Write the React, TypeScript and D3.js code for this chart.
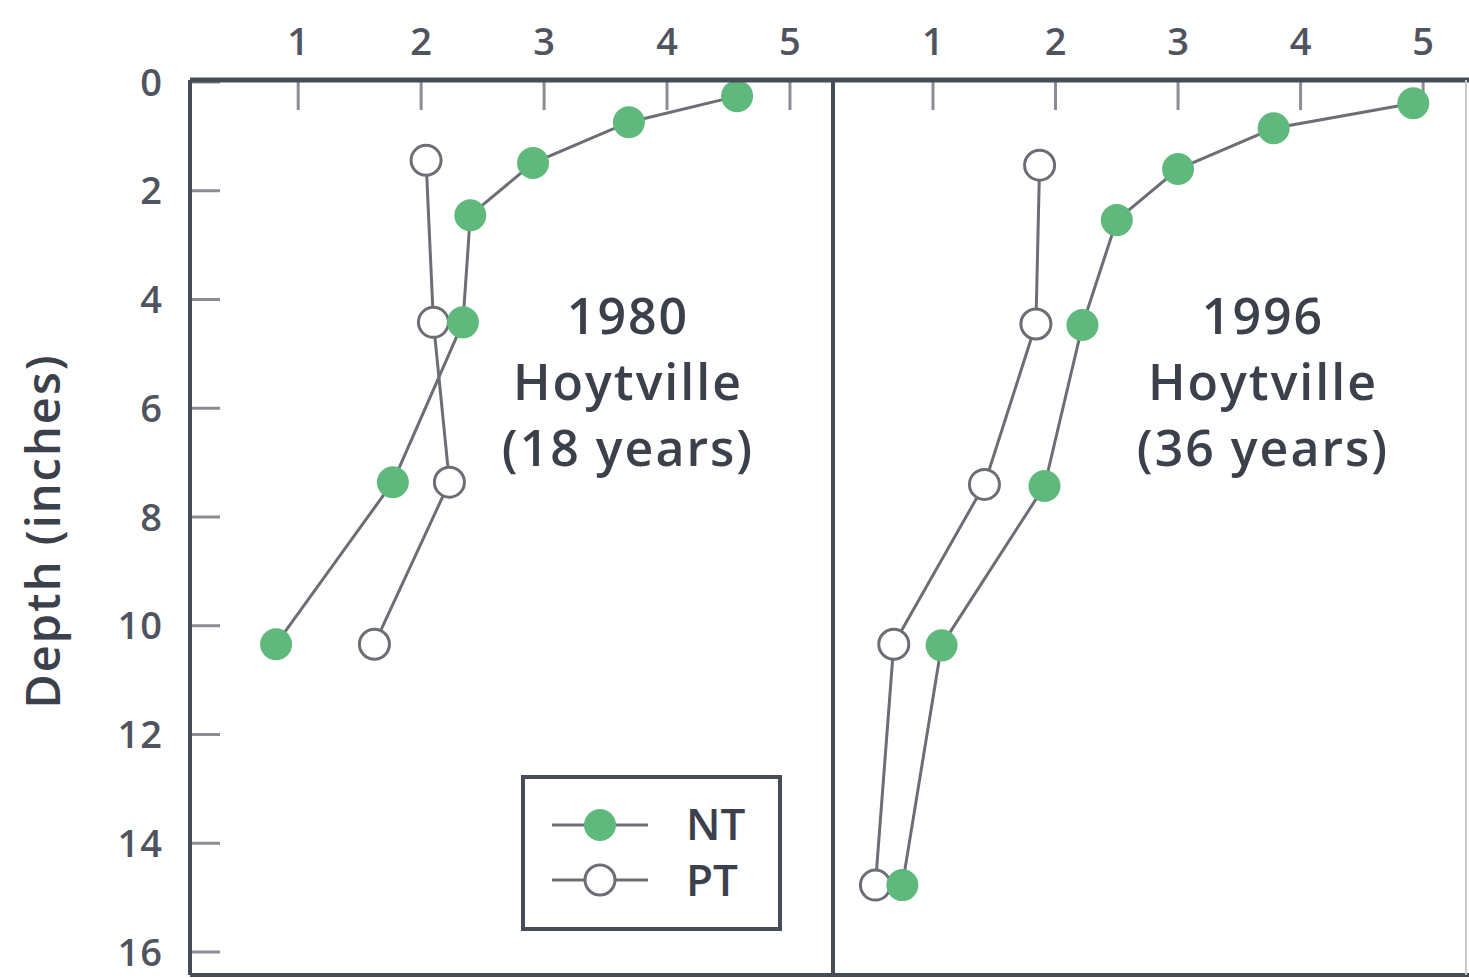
import React from "react";
import * as d3 from "d3";

// ---- Data ----
const xTicks = [1, 2, 3, 4, 5];
const yTicks = [0, 2, 4, 6, 8, 10, 12, 14, 16];

const nt1980Depth = [0.26, 0.74, 1.49, 2.45, 4.42, 7.36, 10.34];
const nt1980Value = [4.57, 3.69, 2.91, 2.4, 2.34, 1.77, 0.82];
const pt1980Depth = [1.44, 4.42, 7.36, 10.34];
const pt1980Value = [2.04, 2.1, 2.23, 1.62];

const nt1996Depth = [0.39, 0.85, 1.6, 2.54, 4.47, 7.43, 10.36, 14.77];
const nt1996Value = [4.92, 3.78, 3.0, 2.5, 2.22, 1.91, 1.07, 0.75];
const pt1996Depth = [1.53, 4.45, 7.4, 10.34, 14.77];
const pt1996Value = [1.87, 1.84, 1.42, 0.68, 0.53];

const panelLabels = [
  ["1980", "Hoytville", "(18 years)"],
  ["1996", "Hoytville", "(36 years)"],
];
const legendLabels = ["NT", "PT"];
const yAxisTitle = "Depth (inches)";

// ---- Styles ----
const FONT = "'Open Sans', 'Noto Sans', sans-serif";
const AXIS = "#474c59";
const LINE = "#6b6e75";
const GREEN = "#5fb97c";
const TEXT = "#3b404b";
const TICKTEXT = "#50545f";

const W = 1469;
const H = 978;
const TOP = 80;
const BOTTOM = 975;

const yScale = d3.scaleLinear().domain([0, 16]).range([82, 952]);

const panels = [
  {
    x0: 190,
    x1: 833,
    scale: d3.scaleLinear().domain([0.12, 5.35]).range([190, 833]),
    nt: nt1980Depth.map((d, i) => ({ d, v: nt1980Value[i] })),
    pt: pt1980Depth.map((d, i) => ({ d, v: pt1980Value[i] })),
    label: panelLabels[0],
    labelX: 628,
  },
  {
    x0: 833,
    x1: 1466,
    scale: d3.scaleLinear().domain([0.184, 5.35]).range([833, 1466]),
    nt: nt1996Depth.map((d, i) => ({ d, v: nt1996Value[i] })),
    pt: pt1996Depth.map((d, i) => ({ d, v: pt1996Value[i] })),
    label: panelLabels[1],
    labelX: 1263,
  },
];

type Pt = { d: number; v: number };

export default function App() {
  return (
    <svg
      width={W}
      height={H}
      style={{ position: "absolute", left: 0, top: 0, background: "#fff" }}
      fontFamily={FONT}
    >
      <rect x={0} y={0} width={W} height={H} fill="#fff" />
      {/* y axis title */}
      <text
        transform={`translate(60,531) rotate(-90)`}
        textAnchor="middle"
        fontSize={47}
        fontWeight={600}
        letterSpacing={2}
        fill={TEXT}
      >
        {yAxisTitle}
      </text>
      {/* y tick labels */}
      {yTicks.map((t) => (
        <text
          key={"yl" + t}
          x={163}
          y={yScale(t)}
          dy="0.36em"
          textAnchor="end"
          fontSize={38}
          fontWeight={600}
          letterSpacing={1}
          fill={TICKTEXT}
        >
          {t}
        </text>
      ))}
      {panels.map((p, pi) => {
        const line = d3
          .line<Pt>()
          .x((q) => p.scale(q.v))
          .y((q) => yScale(q.d));
        return (
          <g key={"p" + pi}>
            {/* x tick labels */}
            {xTicks.map((t) => (
              <text
                key={"xl" + t}
                x={p.scale(t)}
                y={55}
                textAnchor="middle"
                fontSize={38}
                fontWeight={600}
                fill={TICKTEXT}
              >
                {t}
              </text>
            ))}
            {/* x ticks */}
            {xTicks.map((t) => (
              <line
                key={"xt" + t}
                x1={p.scale(t)}
                x2={p.scale(t)}
                y1={TOP}
                y2={TOP + 30}
                stroke="#8a8d95"
                strokeWidth={3}
              />
            ))}
            {/* y ticks (left panel only) */}
            {pi === 0 &&
              yTicks.map((t) => (
                <line
                  key={"yt" + t}
                  x1={p.x0}
                  x2={p.x0 + 30}
                  y1={yScale(t)}
                  y2={yScale(t)}
                  stroke="#8a8d95"
                  strokeWidth={3}
                />
              ))}
            {/* lines */}
            <path d={line(p.pt) || ""} fill="none" stroke={LINE} strokeWidth={3} />
            <path d={line(p.nt) || ""} fill="none" stroke={LINE} strokeWidth={3} />
            {/* markers */}
            {p.pt.map((q, i) => (
              <circle
                key={"pt" + i}
                cx={p.scale(q.v)}
                cy={yScale(q.d)}
                r={15}
                fill="#fff"
                stroke={LINE}
                strokeWidth={3}
              />
            ))}
            {p.nt.map((q, i) => (
              <circle
                key={"nt" + i}
                cx={p.scale(q.v)}
                cy={yScale(q.d)}
                r={16}
                fill={GREEN}
              />
            ))}
            {/* panel annotation */}
            {p.label.map((s, i) => (
              <text
                key={"lab" + i}
                x={p.labelX}
                y={334 + i * 66}
                textAnchor="middle"
                fontSize={50}
                fontWeight={600}
                letterSpacing={2}
                fill={TEXT}
              >
                {s}
              </text>
            ))}
          </g>
        );
      })}
      {/* frame */}
      <line x1={190} x2={1469} y1={TOP} y2={TOP} stroke={AXIS} strokeWidth={5} />
      <line x1={190} x2={1469} y1={BOTTOM} y2={BOTTOM} stroke={AXIS} strokeWidth={4} />
      <line x1={190} x2={190} y1={TOP} y2={BOTTOM} stroke={AXIS} strokeWidth={4} />
      <line x1={833} x2={833} y1={TOP} y2={BOTTOM} stroke={AXIS} strokeWidth={4} />
      <line x1={1466} x2={1466} y1={TOP} y2={BOTTOM} stroke="#c8cad0" strokeWidth={2} />
      {/* legend */}
      <rect x={523} y={777} width={257} height={152} fill="#fff" stroke={AXIS} strokeWidth={4} />
      <line x1={552} x2={648} y1={825} y2={825} stroke={LINE} strokeWidth={3} />
      <circle cx={600} cy={825} r={16} fill={GREEN} />
      <line x1={552} x2={648} y1={880} y2={880} stroke={LINE} strokeWidth={3} />
      <circle cx={600} cy={880} r={15} fill="#fff" stroke={LINE} strokeWidth={3} />
      <text x={686} y={840} fontSize={44} fontWeight={600} fill={TEXT}>
        {legendLabels[0]}
      </text>
      <text x={686} y={896} fontSize={44} fontWeight={600} fill={TEXT}>
        {legendLabels[1]}
      </text>
    </svg>
  );
}
